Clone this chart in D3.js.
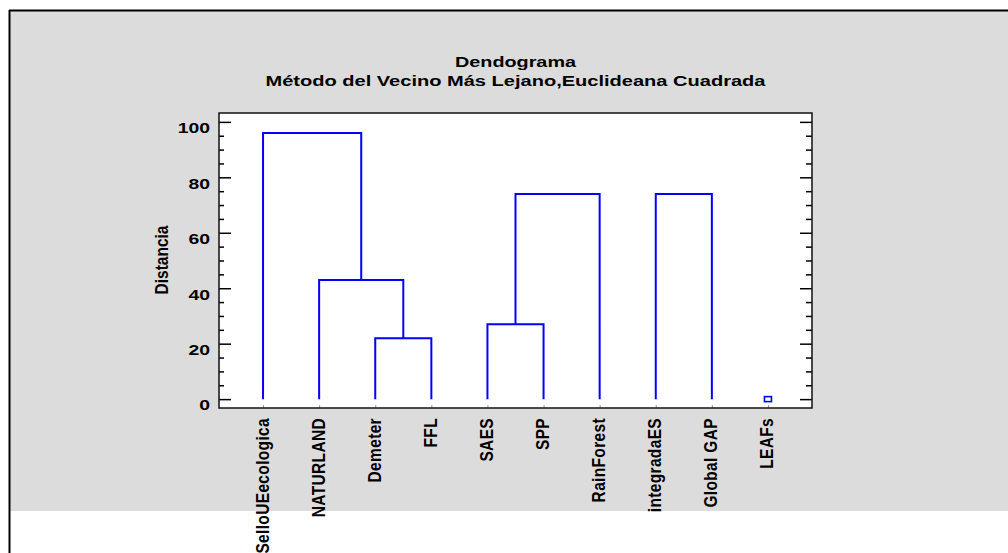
<!DOCTYPE html>
<html>
<head>
<meta charset="utf-8">
<script src="https://cdn.jsdelivr.net/npm/d3@7/dist/d3.min.js"></script>
<style>
  html, body { margin: 0; padding: 0; background: #fff; }
  svg { display: block; }
  text { font-family: "Liberation Sans", Arial, Helvetica, sans-serif; font-weight: bold; fill: #000; }
</style>
</head>
<body>
<svg id="chart" width="1008" height="553"></svg>
<script>
// ---- data ----
const titleLines = ["Dendograma", "Método del Vecino Más Lejano,Euclideana Cuadrada"];
const yLabel = "Distancia";
const leaves = ["SelloUEecologica", "NATURLAND", "Demeter", "FFL", "SAES", "SPP", "RainForest", "integradaES", "Global GAP", "LEAFs"];
// merges: children are leaf names or "#k" (k-th merge)
const mergeA = ["Demeter", "SAES", "NATURLAND", "integradaES", "#1", "SelloUEecologica"];
const mergeB = ["FFL", "SPP", "#0", "Global GAP", "RainForest", "#2"];
const mergeHeight = [22, 27, 43, 74, 74, 96];
const singletons = ["LEAFs"];
const yTicks = [0, 20, 40, 60, 80, 100];
const yMinorTicks = [5, 10, 15, 25, 30, 35, 45, 50, 55, 65, 70, 75, 85, 90, 95];

// ---- layout ----
const svg = d3.select("#chart");
const W = 1008, H = 553;
const plot = { left: 219, top: 113, right: 812, bottom: 408 };

// background + frame
svg.append("rect").attr("x", 10).attr("y", 11).attr("width", W - 10).attr("height", 500).attr("fill", "#dcdcdc");
svg.append("line").attr("x1", 9).attr("x2", W).attr("y1", 10.5).attr("y2", 10.5).attr("stroke", "#000").attr("stroke-width", 2);
svg.append("line").attr("x1", 9.5).attr("x2", 9.5).attr("y1", 10).attr("y2", H).attr("stroke", "#000").attr("stroke-width", 2);

// plot area
svg.append("rect")
  .attr("x", plot.left).attr("y", plot.top)
  .attr("width", plot.right - plot.left).attr("height", plot.bottom - plot.top)
  .attr("fill", "#fff");

const x = d3.scalePoint().domain(leaves).range([plot.left, plot.right]).padding(0.785);
const y = d3.scaleLinear().domain([-3.2, 103.2]).range([plot.bottom, plot.top]);

// titles
const cx = (plot.left + plot.right) / 2;
const titleWidths = [121, 500];
const titleY = [67, 86];
svg.selectAll("text.title").data(titleLines).enter().append("text")
  .attr("class", "title")
  .attr("x", cx).attr("y", (d, i) => titleY[i])
  .attr("text-anchor", "middle")
  .attr("font-size", 14.5)
  .attr("textLength", (d, i) => titleWidths[i])
  .attr("lengthAdjust", "spacingAndGlyphs")
  .text(d => d);

// axes
const gL = svg.append("g").attr("transform", `translate(${plot.left},0)`)
  .call(d3.axisLeft(y).tickValues(yTicks).tickSize(-12).tickPadding(7.2).tickFormat(d3.format("d")));
gL.select(".domain").remove();
gL.selectAll(".tick line").attr("stroke", "#000").attr("stroke-width", 1.5);
gL.selectAll(".tick text")
  .attr("font-size", 15.5)
  .attr("font-family", "'Liberation Sans', Arial, sans-serif")
  .attr("font-weight", "bold")
  .attr("fill", "#111")
  .attr("dy", "0.7em")
  .attr("transform", "scale(1.25,1)");

const gLm = svg.append("g").attr("transform", `translate(${plot.left},0)`)
  .call(d3.axisLeft(y).tickValues(yMinorTicks).tickSize(-5).tickFormat(""));
gLm.select(".domain").remove();
gLm.selectAll(".tick line").attr("stroke", "#000").attr("stroke-width", 1.5);

const gR = svg.append("g").attr("transform", `translate(${plot.right},0)`)
  .call(d3.axisRight(y).tickValues(yTicks).tickSize(-12).tickFormat(""));
gR.select(".domain").remove();
gR.selectAll(".tick line").attr("stroke", "#000").attr("stroke-width", 1.5);
const gRm = svg.append("g").attr("transform", `translate(${plot.right},0)`)
  .call(d3.axisRight(y).tickValues(yMinorTicks).tickSize(-6).tickFormat(""));
gRm.select(".domain").remove();
gRm.selectAll(".tick line").attr("stroke", "#000").attr("stroke-width", 1.5);

const gB = svg.append("g").attr("transform", `translate(0,${plot.bottom})`)
  .call(d3.axisBottom(x).tickSize(-3).tickFormat(""));
gB.select(".domain").remove();
gB.selectAll(".tick line").attr("stroke", "#999").attr("stroke-width", 1);

// frame
svg.append("rect")
  .attr("x", plot.left).attr("y", plot.top)
  .attr("width", plot.right - plot.left).attr("height", plot.bottom - plot.top)
  .attr("fill", "none").attr("stroke", "#111").attr("stroke-width", 1.5);

// dendrogram
const nodePos = {};
leaves.forEach(l => nodePos[l] = { x: x(l), h: 0 });
const links = [];
mergeA.forEach((a, i) => {
  const b = mergeB[i];
  const pa = nodePos[a], pb = nodePos[b];
  const h = mergeHeight[i];
  links.push({ a: pa, b: pb, h: h });
  nodePos["#" + i] = { x: (pa.x + pb.x) / 2, h: h };
});
svg.append("g").selectAll("path").data(links).enter().append("path")
  .attr("d", d => `M${d.a.x},${y(d.a.h)}V${y(d.h)}H${d.b.x}V${y(d.b.h)}`)
  .attr("fill", "none").attr("stroke", "#0000ff").attr("stroke-width", 2);

svg.append("g").selectAll("rect").data(singletons).enter().append("rect")
  .attr("x", d => x(d) - 3.5).attr("y", y(0) - 2.5)
  .attr("width", 7).attr("height", 5)
  .attr("fill", "none").attr("stroke", "#0000ff").attr("stroke-width", 1.6);

// leaf labels
svg.append("g").selectAll("text").data(leaves).enter().append("text")
  .attr("transform", d => `translate(${x(d) - 1},418) scale(1.2,1) rotate(-90)`)
  .attr("text-anchor", "end")
  .attr("dy", "0.35em")
  .attr("font-size", 15.5)
  .attr("letter-spacing", 0.35)
  .text(d => d);

// y label
svg.append("text")
  .attr("transform", "translate(161,260) scale(1.2,1) rotate(-90)")
  .attr("text-anchor", "middle")
  .attr("dy", "0.35em")
  .attr("font-size", 15.5)
  .text(yLabel);
</script>
</body>
</html>
